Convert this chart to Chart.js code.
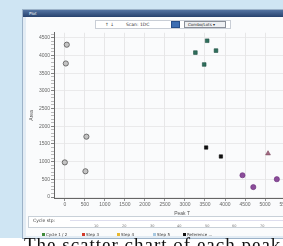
<!DOCTYPE html>
<html><head><meta charset="utf-8">
<script src="https://cdn.jsdelivr.net/npm/chart.js@4/dist/chart.umd.min.js"></script>
<style>
html,body{margin:0;padding:0;width:283px;height:246px;overflow:hidden;background:#fff;font-family:"DejaVu Sans",sans-serif;}
.a{position:absolute;}
#bg{left:0;top:0;width:283px;height:238px;background:#cfe5f3;}
#win{left:22px;top:9px;width:290px;height:228px;background:#e3ecf4;border:1px solid #9cb2c8;}
#title{left:23px;top:10px;width:290px;height:7px;background:linear-gradient(#5474a2,#27426e);color:#fff;font-size:4px;line-height:7px;padding-left:6px;box-sizing:border-box;}
#body{left:26px;top:17px;width:290px;height:219px;background:#fafbfc;}
#tool{left:95px;top:20px;width:136px;height:9px;background:#fff;border:1px solid #c9ced6;box-sizing:border-box;font-size:4.5px;color:#333;}
#tool span{position:absolute;top:1px;}
#ico{left:171px;top:21px;width:9px;height:7px;background:#3c6db2;border:1px solid #274f8a;box-sizing:border-box;}
#dd{left:184px;top:21px;width:42px;height:7px;border:1px solid #8a8f98;background:#eef0f3;box-sizing:border-box;font-size:4px;line-height:6px;padding-left:3px;color:#222;}
#cv{left:25px;top:28px;}
#cyc{left:28px;top:216px;width:260px;height:12px;border:1px solid #c8d0d8;background:#fff;box-sizing:border-box;}
#cyclab{left:33px;top:218px;font-size:4.5px;color:#444;}
#cycline{left:70px;top:220px;width:213px;height:1px;background:#dde;}
.ct{position:absolute;top:224px;font-size:3.5px;color:#777;}
.lg{position:absolute;top:232px;font-size:4px;color:#333;white-space:nowrap;}
.lg i{display:inline-block;width:3px;height:3px;margin-right:1px;vertical-align:middle;}
#cap{left:24px;top:234px;font-size:19px;color:#111;white-space:nowrap;font-family:"Liberation Serif",serif;letter-spacing:1px;}
</style></head>
<body>
<div id="bg" class="a"></div>
<div id="win" class="a"></div>
<div id="title" class="a">Plot</div>
<div id="body" class="a"></div>
<div id="tool" class="a"><span style="left:9px">↑ ↓</span><span style="left:30px">Scan: 1DC</span></div>
<div id="ico" class="a"></div>
<div id="dd" class="a">Combo/Lots ▾</div>
<canvas id="cv" class="a" width="290" height="190"></canvas>
<div id="cyc" class="a"></div>
<div id="cyclab" class="a">Cycle stp:</div>
<div id="cycline" class="a"></div>
<div id="cycticks"></div>
<div id="legend"></div>
<div id="cap" class="a">The scatter chart of each peak</div>
<script>
// ---- data ----
const xTitle = "Peak T";
const yTitle = "Area";
const xTickValues = [0,500,1000,1500,2000,2500,3000,3500,4000,4500,5000,5500,6000];
const yTickValues = [0,500,1000,1500,2000,2500,3000,3500,4000,4500];

const seriesNames = ["Group A","Group B","Group C","Group D","Group E"];
const xA = [49, 25, 539, 0, 515];
const yA = [4304, 3773, 1705, 978, 727];
const xB = [3554, 3260, 3775, 3480];
const yB = [4416, 4081, 4137, 3745];
const xC = [3529, 3897];
const yC = [1398, 1146];
const xD = [4436, 4706, 5294];
const yD = [615, 280, 503];
const xE = [5074];
const yE = [1230];

const cycleLabels = ["10","20","30","40","50","60","70"];
const legendLabels = ["Cycle 1 / 2","Step 3","Step 4","Step 5","Reference ..."];

// ---- HTML extras ----
const cycX = [97,125,153,180,208,235,263];
const ct = document.getElementById('cycticks');
cycleLabels.forEach((l,i)=>{const d=document.createElement('div');d.className='ct';d.style.left=(cycX[i]-3)+'px';d.textContent=l;ct.appendChild(d);});
const lgX = [42,82,117,153,183];
const lgC = ['#3f8a3a','#d23a2a','#e8b830','#a8c8e0','#111'];
const lgEl = document.getElementById('legend');
legendLabels.forEach((l,i)=>{const d=document.createElement('div');d.className='lg';d.style.left=lgX[i]+'px';d.innerHTML='<i style="background:'+lgC[i]+'"></i>'+l;lgEl.appendChild(d);});

// ---- chart ----
const pts = (xs,ys)=>xs.map((x,i)=>({x:x,y:ys[i]}));
const minorY = [];
for(let v=0; v<=4600; v+=100) minorY.push(v);

new Chart(document.getElementById('cv'), {
  type:'scatter',
  data:{datasets:[
    {label:seriesNames[0], data:pts(xA,yA), pointStyle:'circle', pointRadius:2.6, backgroundColor:'#c4c4c4', borderColor:'#555', borderWidth:0.8},
    {label:seriesNames[1], data:pts(xB,yB), pointStyle:'rect', pointRadius:2.6, backgroundColor:'#2f6f5c', borderColor:'#1f4f42', borderWidth:0.6},
    {label:seriesNames[2], data:pts(xC,yC), pointStyle:'rect', pointRadius:2.4, backgroundColor:'#111', borderColor:'#000', borderWidth:0.5},
    {label:seriesNames[3], data:pts(xD,yD), pointStyle:'circle', pointRadius:2.6, backgroundColor:'#8b4d9a', borderColor:'#6a2e7a', borderWidth:0.6},
    {label:seriesNames[4], data:pts(xE,yE), pointStyle:'triangle', pointRadius:2.8, backgroundColor:'#a46a82', borderColor:'#7a4a5e', borderWidth:0.6}
  ]},
  options:{
    responsive:false, animation:false,
    layout:{padding:{top:3,right:0,left:0,bottom:0}},
    plugins:{legend:{display:false}, tooltip:{enabled:false}},
    scales:{
      x:{type:'linear', min:-270, max:6127,
        afterBuildTicks:s=>{s.ticks = xTickValues.map(v=>({value:v}));},
        afterFit:s=>{s.height=20;},
        ticks:{font:{size:5}, color:'#666', padding:1, maxRotation:0, autoSkip:false, callback:(v)=>String(v)},
        grid:{color:'#e2e2e2', tickColor:'#777', tickLength:3, lineWidth:0.8},
        border:{color:'#666'},
        title:{display:true, text:xTitle, font:{size:5}, color:'#555', padding:{top:0,bottom:1}}
      },
      y:{type:'linear', min:-28, max:4640,
        afterBuildTicks:s=>{s.ticks = minorY.map(v=>({value:v}));},
        afterFit:s=>{s.width=29;},
        ticks:{font:{size:5}, color:'#666', padding:1, autoSkip:false,
          callback:(v)=> yTickValues.includes(v) ? String(v) : ''},
        grid:{color:(c)=> (c.tick && yTickValues.includes(c.tick.value)) ? '#e6e6e6' : 'rgba(0,0,0,0)',
          tickColor:(c)=> (c.tick && yTickValues.includes(c.tick.value)) ? '#666' : '#aaa', tickLength:3, lineWidth:0.8},
        border:{color:'#666'},
        title:{display:true, text:yTitle, font:{size:5}, color:'#555', padding:{top:4,bottom:0}}
      }
    }
  }
});
</script>
</body></html>
